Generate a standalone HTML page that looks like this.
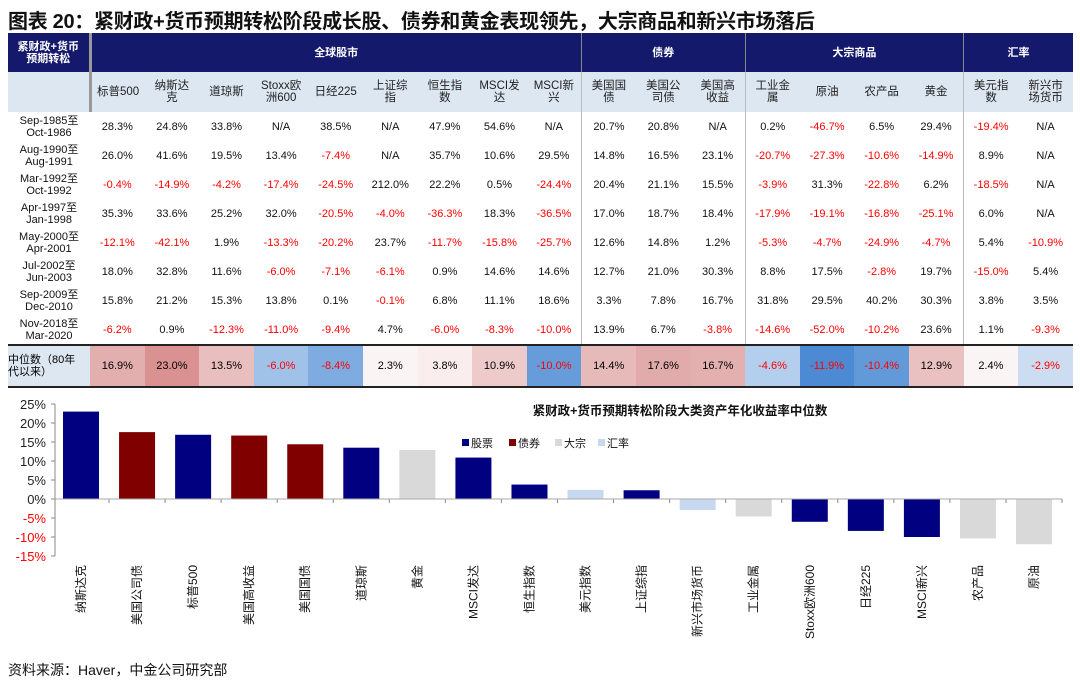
<!DOCTYPE html>
<html><head><meta charset="utf-8">
<style>
body{margin:0;width:1080px;height:687px;background:#fff;font-family:"Liberation Sans","Noto Sans CJK SC",sans-serif;position:relative;overflow:hidden}
#title{position:absolute;left:8px;top:5px;font-size:20px;font-weight:bold;color:#111;white-space:nowrap;letter-spacing:-0.3px}
table{position:absolute;left:8px;top:33px;border-collapse:collapse;table-layout:fixed;width:1065px;font-size:11px}
td{text-align:center;padding:0;overflow:hidden;line-height:12px}
.h1 td{background:#14196b;color:#fff;font-weight:bold;height:39px}
.h2 td{background:#dde7f2;color:#222;height:40px;font-size:11.5px}
.d td{height:29px;color:#111}
.neg{color:#f00!important}
.med td{height:40px;border-top:2px solid #222;border-bottom:2px solid #222}
.sep{border-right:1px solid #bbb}
#src{position:absolute;left:8px;top:660px;font-size:14px;color:#111}
</style></head><body>
<div id="title">图表 20：紧财政+货币预期转松阶段成长股、债券和黄金表现领先，大宗商品和新兴市场落后</div>
<table id="tbl"></table>
<svg id="chart" width="1080" height="687" style="position:absolute;left:0;top:0"></svg>
<div id="src">资料来源：Haver，中金公司研究部</div>
<script>
const groups=[["全球股市",9],["债券",3],["大宗商品",4],["汇率",2]];
const cols=["标普500","纳斯达<br>克","道琼斯","Stoxx欧<br>洲600","日经225","上证综<br>指","恒生指<br>数","MSCI发<br>达","MSCI新<br>兴","美国国<br>债","美国公<br>司债","美国高<br>收益","工业金<br>属","原油","农产品","黄金","美元指<br>数","新兴市<br>场货币"];
const periods=["Sep-1985至<br>Oct-1986","Aug-1990至<br>Aug-1991","Mar-1992至<br>Oct-1992","Apr-1997至<br>Jan-1998","May-2000至<br>Apr-2001","Jul-2002至<br>Jun-2003","Sep-2009至<br>Dec-2010","Nov-2018至<br>Mar-2020"];
const rows=[
["28.3%","24.8%","33.8%","N/A","38.5%","N/A","47.9%","54.6%","N/A","20.7%","20.8%","N/A","0.2%","-46.7%","6.5%","29.4%","-19.4%","N/A"],
["26.0%","41.6%","19.5%","13.4%","-7.4%","N/A","35.7%","10.6%","29.5%","14.8%","16.5%","23.1%","-20.7%","-27.3%","-10.6%","-14.9%","8.9%","N/A"],
["-0.4%","-14.9%","-4.2%","-17.4%","-24.5%","212.0%","22.2%","0.5%","-24.4%","20.4%","21.1%","15.5%","-3.9%","31.3%","-22.8%","6.2%","-18.5%","N/A"],
["35.3%","33.6%","25.2%","32.0%","-20.5%","-4.0%","-36.3%","18.3%","-36.5%","17.0%","18.7%","18.4%","-17.9%","-19.1%","-16.8%","-25.1%","6.0%","N/A"],
["-12.1%","-42.1%","1.9%","-13.3%","-20.2%","23.7%","-11.7%","-15.8%","-25.7%","12.6%","14.8%","1.2%","-5.3%","-4.7%","-24.9%","-4.7%","5.4%","-10.9%"],
["18.0%","32.8%","11.6%","-6.0%","-7.1%","-6.1%","0.9%","14.6%","14.6%","12.7%","21.0%","30.3%","8.8%","17.5%","-2.8%","19.7%","-15.0%","5.4%"],
["15.8%","21.2%","15.3%","13.8%","0.1%","-0.1%","6.8%","11.1%","18.6%","3.3%","7.8%","16.7%","31.8%","29.5%","40.2%","30.3%","3.8%","3.5%"],
["-6.2%","0.9%","-12.3%","-11.0%","-9.4%","4.7%","-6.0%","-8.3%","-10.0%","13.9%","6.7%","-3.8%","-14.6%","-52.0%","-10.2%","23.6%","1.1%","-9.3%"]];
const medians=[16.9,23.0,13.5,-6.0,-8.4,2.3,3.8,10.9,-10.0,14.4,17.6,16.7,-4.6,-11.9,-10.4,12.9,2.4,-2.9];
const sepAfter=[8,11,15];
const tbl=document.getElementById('tbl');
let h='<colgroup><col style="width:82px">'+cols.map(()=>'<col style="width:54.6px">').join('')+'</colgroup>';
h+='<tr class="h1"><td style="border-right:3px solid #999;font-size:11px">紧财政+货币<br>预期转松</td>';
groups.forEach((g,i)=>{h+='<td colspan="'+g[1]+'" style="'+(i<3?'border-right:1px solid #888':'')+'">'+g[0]+'</td>';});
h+='</tr><tr class="h2"><td style="border-right:3px solid #999"></td>';
cols.forEach((c,i)=>{h+='<td class="'+(sepAfter.includes(i)?'sep':'')+'">'+c+'</td>';});
h+='</tr>';
rows.forEach((r,ri)=>{h+='<tr class="d"><td>'+periods[ri]+'</td>';
r.forEach((v,i)=>{h+='<td class="'+(v[0]=='-'?'neg ':'')+(sepAfter.includes(i)?'sep':'')+'">'+v+'</td>';});h+='</tr>';});
function heat(v){if(v>=0){const t=Math.min(v/23,1);const r=255-Math.round(t*38),g=255-Math.round(t*110),b=255-Math.round(t*110);return `rgb(${r},${g},${b})`;}
const t=Math.min(-v/12,1);return `rgb(${245-Math.round(t*170)},${248-Math.round(t*110)},${252-Math.round(t*40)})`;}
h+='<tr class="med"><td style="background:#dde7f2;text-align:left;font-size:11px">中位数（80年<br>代以来）</td>';
medians.forEach(v=>{h+='<td class="'+(v<0?'neg':'')+'" style="background:'+heat(v)+'">'+v.toFixed(1)+'%</td>';});
h+='</tr>';
tbl.innerHTML=h;

// chart
const cats=["纳斯达克","美国公司债","标普500","美国高收益","美国国债","道琼斯","黄金","MSCI发达","恒生指数","美元指数","上证综指","新兴市场货币","工业金属","Stoxx欧洲600","日经225","MSCI新兴","农产品","原油"];
const vals=[23.0,17.6,16.9,16.7,14.4,13.5,12.9,10.9,3.8,2.4,2.3,-2.9,-4.6,-6.0,-8.4,-10.0,-10.4,-11.9];
const types=["s","b","s","b","b","s","c","s","s","f","s","f","c","s","s","s","c","c"];
const ticks=[25,20,15,10,5,0,-5,-10,-15];
const colors={s:"#000080",b:"#800000",c:"#d9d9d9",f:"#c6d9f1"};
const svg=document.getElementById('chart');const NS="http://www.w3.org/2000/svg";
function y(v){return 499-v*3.8;}
function x(i){return 81+i*56.06;}
function mk(t,a,p){const e=document.createElementNS(NS,t);for(const k in a)e.setAttribute(k,a[k]);(p||svg).appendChild(e);return e;}
let e=mk('line',{x1:55,y1:y(25),x2:55,y2:y(-15),stroke:'#888'});


ticks.forEach(t=>{mk('line',{x1:51,x2:55,y1:y(t),y2:y(t),stroke:'#888'});
const tx=mk('text',{x:46,y:y(t)+5,'text-anchor':'end','font-size':13,fill:t<0?'#f00':'#222'});tx.textContent=t+'%';

});
vals.forEach((v,i)=>{const r=mk('rect',{x:x(i)-18,y:Math.min(y(v),y(0)),width:36,height:Math.abs(y(v)-y(0)),fill:colors[types[i]]});


const l=mk('text',{transform:`translate(${x(i)+4},565) rotate(-90)`,'text-anchor':'end','font-size':12,fill:'#111'});l.textContent=cats[i];


mk('line',{x1:x(i)+28,x2:x(i)+28,y1:y(0),y2:y(0)+4,stroke:'#888'});});
e=mk('line',{x1:55,y1:y(0),x2:1062,y2:y(0),stroke:'#aaa'});


const ct=mk('text',{x:680,y:415,'text-anchor':'middle','font-size':12.5,'font-weight':'bold',fill:'#111'});ct.textContent='紧财政+货币预期转松阶段大类资产年化收益率中位数';


const leg=[["股票","s"],["债券","b"],["大宗","c"],["汇率","f"]];const lx=[462,509,555,598];
leg.forEach((l,i)=>{const g=mk('g',{});


mk('rect',{x:lx[i],y:439,width:7,height:7,fill:colors[l[1]]},g);const t=mk('text',{x:lx[i]+9,y:447,'font-size':11,fill:'#111'},g);t.textContent=l[0];});
</script>
</body></html>
